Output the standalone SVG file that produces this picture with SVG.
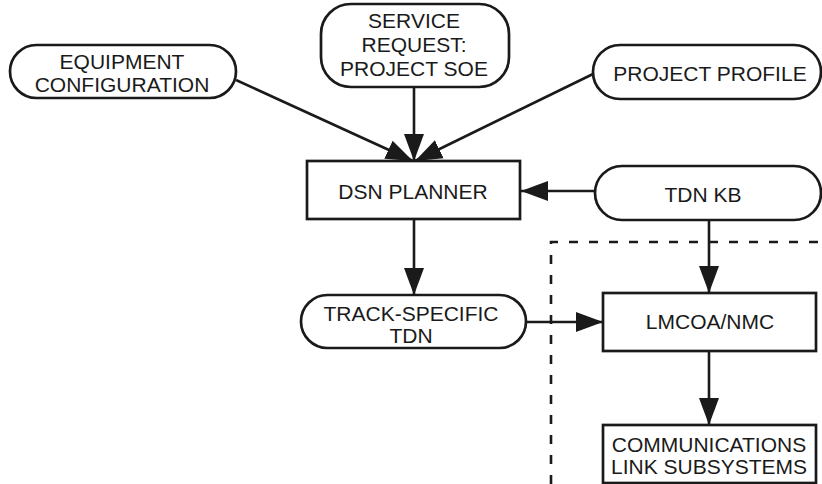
<svg xmlns="http://www.w3.org/2000/svg" width="822" height="484" viewBox="0 0 822 484">
<style>
.shape{fill:#fff;stroke:#1a1a1a;stroke-width:2.7}
.lbl{font-family:"Liberation Sans",Arial,sans-serif;font-size:21px;fill:#1a1a1a;text-anchor:middle}
.conn{fill:none;stroke:#1a1a1a;stroke-width:2.6}
.dash{fill:none;stroke:#1a1a1a;stroke-width:2.6;stroke-dasharray:9 11}
</style>
<defs>
<marker id="ah" markerUnits="userSpaceOnUse" markerWidth="28" markerHeight="22" refX="27" refY="10" orient="auto" viewBox="0 0 28 20">
<path d="M0,0 L27,10 L0,20 z" fill="#1a1a1a"/>
</marker>
</defs>
<g id="boundary">
<path class="dash" d="M551,484 V242 H822"/>
</g>
<g id="connectors">
<line class="conn" x1="236" y1="80" x2="413" y2="161" marker-end="url(#ah)"/>
<line class="conn" x1="414" y1="87" x2="414" y2="161" marker-end="url(#ah)"/>
<line class="conn" x1="593" y1="74" x2="415" y2="161" marker-end="url(#ah)"/>
<line class="conn" x1="595" y1="191" x2="521" y2="191" marker-end="url(#ah)"/>
<line class="conn" x1="414" y1="219" x2="414" y2="295" marker-end="url(#ah)"/>
<line class="conn" x1="709" y1="220" x2="709" y2="293" marker-end="url(#ah)"/>
<line class="conn" x1="526" y1="322" x2="603" y2="322" marker-end="url(#ah)"/>
<line class="conn" x1="709" y1="351" x2="709" y2="425" marker-end="url(#ah)"/>
</g>
<g id="equipment">
<rect class="shape" x="10" y="45" width="226" height="53" rx="26.5"/>
<text class="lbl" x="122" y="69">EQUIPMENT</text>
<text class="lbl" x="122" y="92">CONFIGURATION</text>
</g>
<g id="service">
<rect class="shape" x="321" y="4" width="188" height="83" rx="30"/>
<text class="lbl" x="414" y="28">SERVICE</text>
<text class="lbl" x="414" y="52">REQUEST:</text>
<text class="lbl" x="414" y="76">PROJECT SOE</text>
</g>
<g id="profile">
<rect class="shape" x="593" y="45" width="228" height="54" rx="27"/>
<text class="lbl" x="710" y="81">PROJECT PROFILE</text>
</g>
<g id="dsn">
<rect class="shape" x="307" y="161" width="213" height="58"/>
<text class="lbl" x="413" y="199">DSN PLANNER</text>
</g>
<g id="tdnkb">
<rect class="shape" x="595" y="166" width="226" height="54" rx="27"/>
<text class="lbl" x="703" y="202">TDN KB</text>
</g>
<g id="track">
<rect class="shape" x="301" y="295" width="225" height="53" rx="26.5"/>
<text class="lbl" x="411" y="321">TRACK-SPECIFIC</text>
<text class="lbl" x="411" y="343">TDN</text>
</g>
<g id="lmcoa">
<rect class="shape" x="603" y="293" width="213" height="58"/>
<text class="lbl" x="710" y="329">LMCOA/NMC</text>
</g>
<g id="comm">
<rect class="shape" x="603" y="425" width="213" height="58"/>
<text class="lbl" x="709" y="452">COMMUNICATIONS</text>
<text class="lbl" x="709" y="474">LINK SUBSYSTEMS</text>
</g>
</svg>
